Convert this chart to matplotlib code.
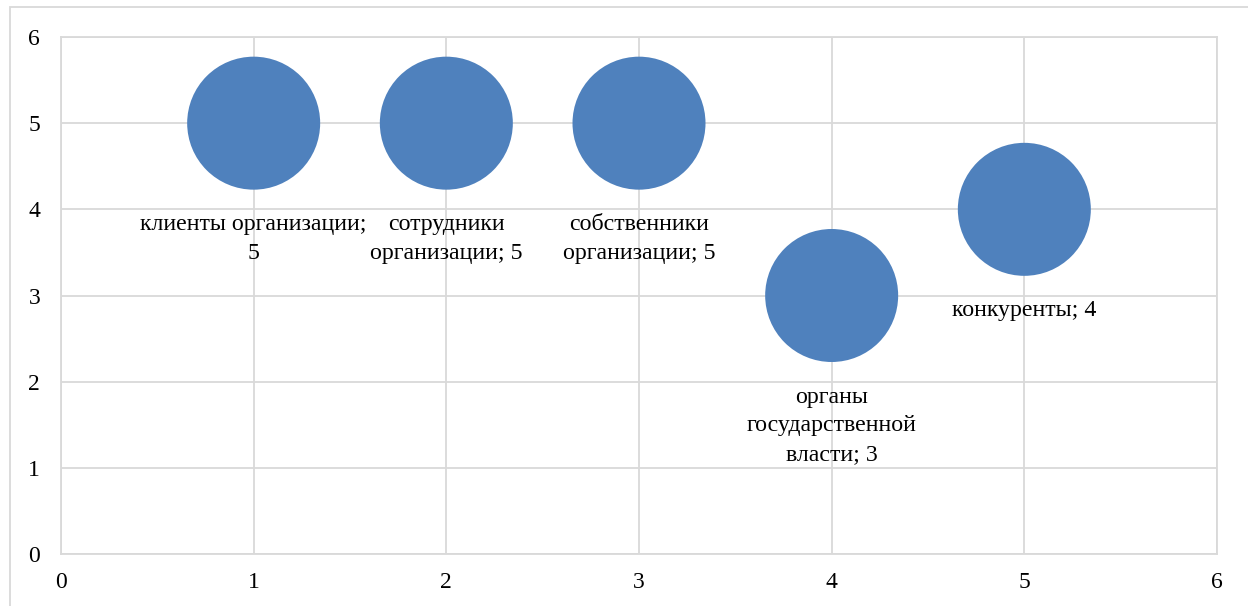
import matplotlib.pyplot as plt
from matplotlib.patches import Rectangle

# data
x_vals = [1, 2, 3, 4, 5]
y_vals = [5, 5, 5, 3, 4]
bubble_sizes = [5, 5, 5, 5, 5]
labels = ['клиенты организации;\n5',
          'сотрудники\nорганизации; 5',
          'собственники\nорганизации; 5',
          'органы\nгосударственной\nвласти; 3',
          'конкуренты; 4']
ticks = [0, 1, 2, 3, 4, 5, 6]

plt.rcParams['font.family'] = ['Liberation Serif', 'DejaVu Serif']

fig = plt.figure(figsize=(12.48, 6.06), dpi=100)
ax = fig.add_axes([61 / 1248, 1 - 554 / 606, (1217 - 61) / 1248, (554 - 37) / 606])

# outer chart border (left and top visible)
fig.patches.append(Rectangle((10 / 1248, -0.1), 1.2, 1 - 7 / 606 + 0.1,
                             transform=fig.transFigure, fill=False,
                             edgecolor='#D9D9D9', linewidth=1.3, zorder=0))

# bubble diameter ~133 px -> points
diam_pt = 133 * 0.72
s = [diam_pt ** 2 * (b / max(bubble_sizes)) for b in bubble_sizes]
ax.scatter(x_vals, y_vals, s=s, color='#4F81BD', edgecolors='none', zorder=3)

for xv, yv, lab in zip(x_vals, y_vals, labels):
    ax.annotate(lab, (xv, yv), xytext=(0, -91), textcoords='offset pixels',
                ha='center', va='top', fontsize=17.2, linespacing=1.5,
                color='#000000', zorder=4)

ax.set_xlim(0, 6)
ax.set_ylim(0, 6)
ax.set_xticks(ticks)
ax.set_yticks(ticks)
ax.grid(True, color='#D9D9D9', linewidth=1.3, zorder=0)
ax.set_axisbelow(True)
for sp in ax.spines.values():
    sp.set_color('#D9D9D9')
    sp.set_linewidth(1.3)
ax.tick_params(length=0, labelsize=17, colors='#000000')
ax.tick_params(axis='x', pad=13)
ax.tick_params(axis='y', pad=15)

fig.savefig('out.png', dpi=100)
